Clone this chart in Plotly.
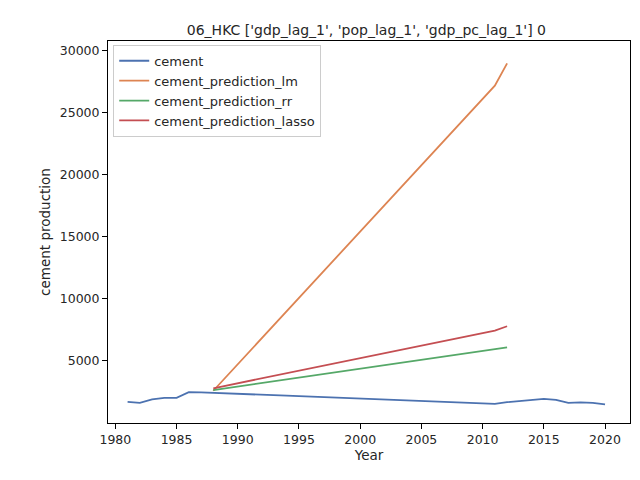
import plotly.graph_objects as go

years = list(range(1981, 2021))
cement = [1700, 1620, 1900, 2030, 2030, 2480, 2470, 2440, 2400, 2360,
          2320, 2280, 2240, 2200, 2170, 2130, 2090, 2050, 2010, 1970,
          1940, 1900, 1860, 1820, 1780, 1740, 1710, 1670, 1630, 1590,
          1550, 1680, 1780, 1900, 1940, 1870, 1620, 1660, 1620, 1510]

pred_years = [1988, 2011, 2012]
pred_lm = [2600, 27200, 29000]
pred_rr = [2650, 5950, 6100]
pred_lasso = [2800, 7450, 7800]

fig = go.Figure()
series = [("cement", years, cement, "#4c72b0"),
          ("cement_prediction_lm", pred_years, pred_lm, "#dd8452"),
          ("cement_prediction_rr", pred_years, pred_rr, "#55a868"),
          ("cement_prediction_lasso", pred_years, pred_lasso, "#c44e52")]
for name, x, y, c in series:
    fig.add_trace(go.Scatter(x=x, y=y, mode="lines", name=name,
                             line=dict(color=c, width=1.8)))

axis = dict(showline=True, linecolor="black", linewidth=1, mirror=True,
            ticks="outside", ticklen=5, tickcolor="black", showgrid=False,
            zeroline=False, automargin=False, tickformat="d",
            tickfont=dict(size=12.5))
fig.update_layout(
    width=640, height=480,
    paper_bgcolor="white", plot_bgcolor="white",
    margin=dict(l=100, r=18, t=33, b=65),
    font=dict(family="DejaVu Sans", size=13, color="#262626"),
    title=dict(text="06_HKC ['gdp_lag_1', 'pop_lag_1', 'gdp_pc_lag_1'] 0",
               x=0.56, xanchor="center", y=0.965, font=dict(size=14)),
    xaxis=dict(axis, title=dict(text="Year", standoff=4, font=dict(size=13.5)),
               range=[1979.4, 2022.04], tickvals=list(range(1980, 2021, 5))),
    yaxis=dict(axis, title=dict(text="cement production", standoff=6, font=dict(size=13.5)),
               range=[0, 30800], tickvals=list(range(5000, 30001, 5000))),
    legend=dict(x=0.01, y=0.99, xanchor="left", yanchor="top",
                bordercolor="#cccccc", borderwidth=1, bgcolor="rgba(255,255,255,0.8)",
                font=dict(size=13)),
)
fig.write_html("out.html")
